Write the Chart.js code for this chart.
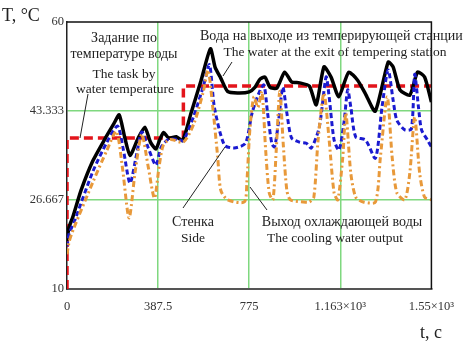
<!DOCTYPE html>
<html lang="ru">
<head>
<meta charset="UTF-8">
<title>Температура воды / Water temperature</title>
<script src="https://cdn.jsdelivr.net/npm/chart.js"></script>
<style>
  html, body { margin: 0; padding: 0; background: #fff; }
  #wrap { width: 464px; height: 345px; }
</style>
</head>
<body>
<div id="wrap"><canvas id="chart" width="464" height="345"></canvas></div>
<script>
// Задание по температуре воды (setpoint)
const tTask = [0, 0, 495, 495, 1550];
const taskTemp = [10, 38.3, 38.3, 48, 48];

// Вода на выходе из темперирующей станции
const tExit = [0, 8, 25, 60, 110, 160, 200, 222, 245, 268, 300, 331, 355, 378, 395, 411, 432, 465, 492,
  528, 570, 610, 630, 654, 683, 725, 775, 800, 821, 842, 863, 892, 926, 955, 989, 1031, 1060, 1093,
  1123, 1156, 1198, 1236, 1270, 1311, 1366, 1387, 1416, 1458, 1491, 1521, 1550];
const exitTemp = [19, 21.5, 23.5, 28.5, 34, 38, 41, 42.6, 38.5, 35, 38, 40.3, 37.5, 36.2, 38, 39.3, 38.3, 38.5, 37.8,
  43, 49, 55, 51.5, 49.5, 47, 46.7, 46.9, 47.8, 49.3, 49.7, 47.8, 47.6, 50.6, 48.8, 48.6, 48.0, 44.5, 51.6,
  49.7, 46.0, 50.6, 49.1, 46.5, 43.3, 52.5, 51.6, 47.3, 46.3, 50.6, 49.7, 45.0];

// Стенка / Side
const tSide = [0, 10, 30, 110, 170, 215, 240, 268, 295, 318, 345, 378, 400, 430, 470, 495, 540, 580, 606,
  627, 669, 711, 759, 788, 822, 838, 853, 871, 883, 899, 918, 935, 955, 989, 1018, 1039, 1073, 1102,
  1115, 1136, 1157, 1178, 1194, 1207, 1228, 1270, 1312, 1340, 1366, 1387, 1403, 1437, 1465, 1479,
  1495, 1508, 1533, 1550];
const sideTemp = [18, 20.5, 22.5, 32, 37.5, 40.5, 36, 29.8, 35, 39.4, 36.5, 33.2, 36.5, 38, 38, 37.8, 42.5, 48, 52,
  44, 37.0, 36.4, 37.3, 43.1, 47.3, 48.2, 43.0, 37.3, 36.6, 41.1, 47.8, 43.0, 38.3, 37.5, 37.3, 36.4, 40.3, 49.7,
  46.0, 37.9, 36.0, 41.1, 47.3, 44.1, 38.5, 37.9, 34.5, 44.1, 51.0, 45.4, 41.6, 39.8, 40, 50.2,
  44, 39.8, 37.9, 36.6];

// Выход охлаждающей воды / The cooling water output
const tCool = [0, 10, 30, 110, 170, 210, 235, 264, 290, 318, 345, 372, 392, 410, 440, 495, 540, 580, 600,
  620, 641, 654, 683, 754, 765, 778, 795, 812, 829, 845, 860, 876, 890, 905, 920, 935, 950, 1005,
  1031, 1050, 1068, 1093, 1115, 1136, 1152, 1173, 1186, 1207, 1228, 1260, 1312, 1333, 1362, 1383,
  1403, 1437, 1458, 1479, 1500, 1521, 1550];
const coolTemp = [16.5, 19, 21.5, 30, 36, 39.5, 33, 23.3, 32, 39, 33, 27, 33, 37, 38, 37.5, 41, 47, 51,
  44, 34.7, 28.5, 26.7, 26.3, 30, 40, 46, 44, 47, 36, 28, 26.7, 36, 47, 37, 28.5, 26.7, 26.3,
  26.3, 27.2, 37.9, 46.7, 37.9, 28.0, 26.7, 34.7, 43.0, 31.7, 27.2, 26.3, 26.3, 34.7, 46.0, 34.7,
  28.0, 26.7, 31.7, 42.2, 31.7, 27.2, 26.7];

const xTicks = [0, 387.5, 775, 1162.5, 1550];
const xTickLabels = ['0', '387.5', '775', '1.163×10³', '1.55×10³'];
const yTicks = [10, 26.667, 43.333, 60];
const yTickLabels = ['10', '26.667', '43.333', '60'];

function pts(xs, ys) {
  return xs.map((x, i) => ({ x: x, y: ys[i] }));
}

const serif = "'Liberation Serif', 'Times New Roman', serif";

// тексты и выноски поверх графика
const notes = {
  id: 'notes',
  afterDraw(chart) {
    const ctx = chart.ctx;
    const a = chart.chartArea;
    ctx.save();
    // рамка сверху и справа
    ctx.strokeStyle = '#111';
    ctx.lineWidth = 1.5;
    ctx.beginPath();
    ctx.moveTo(a.left, a.top);
    ctx.lineTo(a.right, a.top);
    ctx.lineTo(a.right, a.bottom);
    ctx.stroke();

    ctx.fillStyle = '#222';
    ctx.textBaseline = 'middle';
    ctx.font = '18px ' + serif;
    ctx.textAlign = 'left';
    ctx.fillText('T, °C', 2, 16);
    ctx.fillText('t, c', 420, 333);

    ctx.textAlign = 'center';
    ctx.font = '14px ' + serif;
    ctx.fillText('Задание по', 124, 38);
    ctx.fillText('температуре воды', 124, 54);
    ctx.fillText('Стенка', 193, 222);
    ctx.fillText('Выход охлаждающей воды', 342, 222);
    ctx.font = '13.5px ' + serif;
    ctx.fillText('The task by', 124, 74);
    ctx.fillText('water temperature', 125, 89);
    ctx.fillText('The water at the exit of tempering station', 335, 52);
    ctx.fillText('Side', 193, 238);
    ctx.fillText('The cooling water output', 335, 238);
    ctx.textAlign = 'left';
    ctx.font = '14px ' + serif;
    ctx.fillText('Вода на выходе из темперирующей станции', 200, 36);

    ctx.strokeStyle = '#222';
    ctx.lineWidth = 1;
    const leaders = [[88, 94, 80, 138], [232, 62, 223, 76], [183, 208, 225, 147], [267, 210, 250, 187]];
    leaders.forEach(l => {
      ctx.beginPath();
      ctx.moveTo(l[0], l[1]);
      ctx.lineTo(l[2], l[3]);
      ctx.stroke();
    });
    ctx.restore();
  }
};

const green = '#7fd87f';

new Chart(document.getElementById('chart'), {
  type: 'line',
  data: {
    datasets: [
      {
        label: 'Выход охлаждающей воды',
        data: pts(tCool, coolTemp),
        borderColor: '#e8993a',
        borderWidth: 3,
        borderDash: [6, 3, 2, 3],
        tension: 0.25
      },
      {
        label: 'Стенка',
        data: pts(tSide, sideTemp),
        borderColor: '#1a1ad0',
        borderWidth: 3,
        borderDash: [5, 3],
        tension: 0.25
      },
      {
        label: 'Вода на выходе',
        data: pts(tExit, exitTemp),
        borderColor: '#000',
        borderWidth: 3.5,
        tension: 0.2
      },
      {
        label: 'Задание',
        data: pts(tTask, taskTemp),
        borderColor: '#e3141b',
        borderWidth: 3.5,
        borderDash: [9, 5],
        tension: 0
      }
    ]
  },
  options: {
    responsive: false,
    animation: false,
    events: [],
    elements: { point: { radius: 0 } },
    layout: { padding: { left: 0, right: 27, top: 22, bottom: 0 } },
    plugins: { legend: { display: false }, tooltip: { enabled: false } },
    scales: {
      x: {
        type: 'linear',
        min: 0,
        max: 1550,
        afterBuildTicks: s => { s.ticks = xTicks.map(v => ({ value: v })); },
        afterFit: s => { s.height = 56; },
        ticks: {
          padding: 10,
          maxRotation: 0,
          autoSkip: false,
          color: '#333',
          font: { family: serif, size: 12.5 },
          callback: (v, i) => xTickLabels[i]
        },
        grid: {
          drawTicks: false,
          lineWidth: 1.5,
          color: c => (c.index > 0 && c.index < xTicks.length - 1) ? green : 'rgba(0,0,0,0)'
        },
        border: { color: '#555', width: 2 }
      },
      y: {
        min: 10,
        max: 60,
        afterBuildTicks: s => { s.ticks = yTicks.map(v => ({ value: v })); },
        afterFit: s => { s.width = 67; },
        ticks: {
          padding: 3,
          autoSkip: false,
          color: '#333',
          font: { family: serif, size: 12.5 },
          callback: (v, i) => yTickLabels[i]
        },
        grid: {
          drawTicks: false,
          lineWidth: 1.5,
          color: c => (c.index > 0 && c.index < yTicks.length - 1) ? green : 'rgba(0,0,0,0)'
        },
        border: { color: '#222', width: 1.5 }
      }
    }
  },
  plugins: [notes]
});
</script>
</body>
</html>
